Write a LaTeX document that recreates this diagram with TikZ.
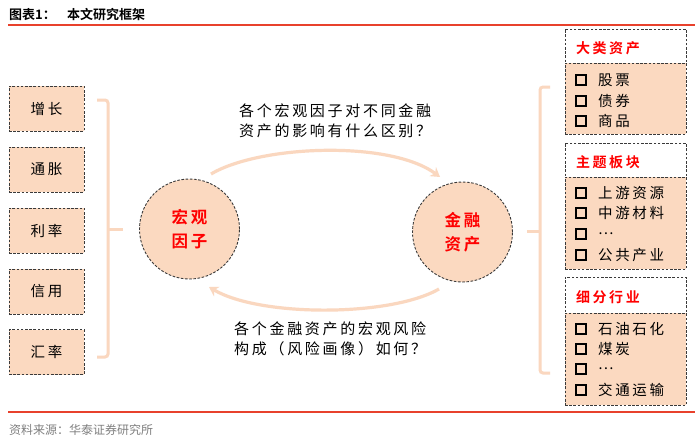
\documentclass[tikz,border=0pt]{standalone}
\usepackage{fontspec}
\usetikzlibrary{arrows.meta}
\newfontfamily\cjk[LetterSpace=18,BoldFont={* Bold}]{Noto Sans CJK SC}
\newfontfamily\cjkn[BoldFont={* Bold}]{Noto Sans CJK SC}
\definecolor{peach}{HTML}{FBD9C0}
\definecolor{peachline}{HTML}{FAD7BF}
\definecolor{titlered}{HTML}{E8412C}
\definecolor{txtred}{HTML}{FF0000}
\definecolor{dashgray}{HTML}{3A3A3A}
\definecolor{srcgray}{HTML}{808080}
\tikzset{
  dsh/.style={draw=dashgray, line width=0.9pt, dash pattern=on 2.6pt off 1.6pt},
  lbox/.style={dsh, fill=peach, minimum width=75pt, minimum height=45pt, inner sep=0pt,
    font=\cjk\fontsize{14.5}{16}\selectfont},
  circ/.style={dsh, fill=peach, circle, minimum size=100pt, inner sep=0pt, align=center,
    text=txtred, font=\cjk\bfseries\fontsize{16.5}{24}\selectfont},
  brk/.style={draw=peachline, line width=3pt, rounded corners=3pt},
  arc/.style={draw=peachline, line width=3.2pt, -{Stealth[length=9pt,width=11pt]}},
  qtxt/.style={inner sep=0pt, align=left, font=\cjk\fontsize{15}{20}\selectfont},
  hdr/.style={dsh, fill=white, minimum width=121pt, inner sep=0pt},
  body/.style={dsh, fill=peach, minimum width=121pt, inner sep=0pt},
  htxt/.style={anchor=west, inner sep=0pt, text=txtred, font=\cjk\bfseries\fontsize{14}{16}\selectfont},
  chk/.style={draw=black, line width=2pt, minimum size=10.5pt, inner sep=0pt},
  itxt/.style={anchor=west, inner sep=0pt, font=\cjk\fontsize{14.5}{16}\selectfont},
}
\begin{document}
\begin{tikzpicture}[x=1pt,y=-1pt]
\useasboundingbox (0,0) rectangle (700,442);
\fill[white] (0,0) rectangle (700,442);

% title
\node[anchor=west, inner sep=0pt, font=\cjkn\bfseries\fontsize{13}{14}\selectfont] (t1) at (9,15) {图表1：};
\node[anchor=west, inner sep=0pt, font=\cjkn\bfseries\fontsize{13}{14}\selectfont] (t2) at (67,15) {本文研究框架};
\coordinate (tl1) at (8,25); \coordinate (tl2) at (695,25);
\draw[titlered, line width=2pt] (tl1) -- (tl2);
\coordinate (bl1) at (8,412); \coordinate (bl2) at (695,412);
\draw[titlered, line width=1.6pt] (bl1) -- (bl2);
\node[anchor=west, inner sep=0pt, text=srcgray, font=\cjkn\fontsize{12}{13}\selectfont] (src) at (9,430) {资料来源：华泰证券研究所};

% left boxes
\node[lbox] (b1) at (46.5,108.5) {增长};
\node[lbox] (b2) at (46.5,169.5) {通胀};
\node[lbox] (b3) at (46.5,230.5) {利率};
\node[lbox] (b4) at (46.5,291.5) {信用};
\node[lbox] (b5) at (46.5,352) {汇率};

% left bracket
\coordinate (lb1) at (97,100); \coordinate (lb2) at (108,100);
\coordinate (lb3) at (108,357); \coordinate (lb4) at (97,357);
\coordinate (lbm) at (108,229); \coordinate (lbs) at (123,229);
\draw[brk] (lb1) -- (lb2) -- (lb3) -- (lb4);
\draw[brk] (lbm) -- (lbs);

% circles
\node[circ] (cL) at (189.5,229) {宏观\\因子};
\node[circ] (cR) at (462.5,232) {金融\\资产};

% arcs
\coordinate (a1s) at (211,174); \coordinate (a1e) at (440,177);
\draw[arc] (a1s) .. controls (260,145) and (390,140) .. (a1e);
\coordinate (a2s) at (439,289); \coordinate (a2e) at (209,287);
\draw[arc] (a2s) .. controls (390,317) and (260,317) .. (a2e);

% questions
\node[qtxt, anchor=west] (q1) at (239,121) {各个宏观因子对不同金融\\资产的影响有什么区别？};
\node[qtxt, anchor=west] (q2) at (234,339) {各个金融资产的宏观风险\\构成（风险画像）如何？};

% right bracket
\coordinate (rb1) at (550,87); \coordinate (rb2) at (540,87);
\coordinate (rb3) at (540,373); \coordinate (rb4) at (550,373);
\coordinate (rbm) at (540,231); \coordinate (rbs) at (527,231);
\draw[brk] (rb1) -- (rb2) -- (rb3) -- (rb4);
\draw[brk] (rbm) -- (rbs);

% right panels
\node[hdr, minimum height=34pt] (h1) at (625.5,46) {};
\node[body, minimum height=71pt] (p1) at (625.5,98.5) {};
\node[hdr, minimum height=34pt] (h2) at (625.5,160) {};
\node[body, minimum height=92pt] (p2) at (625.5,223) {};
\node[hdr, minimum height=36pt] (h3) at (625.5,295) {};
\node[body, minimum height=92pt] (p3) at (625.5,359) {};

\node[htxt] (ht1) at (576,48) {大类资产};
\node[htxt] (ht2) at (576,162) {主题板块};
\node[htxt] (ht3) at (576,297) {细分行业};

\node[chk] (k11) at (581,80) {};  \node[itxt] (i11) at (598,80) {股票};
\node[chk] (k12) at (581,101) {}; \node[itxt] (i12) at (598,101) {债券};
\node[chk] (k13) at (581,121) {}; \node[itxt] (i13) at (598,121) {商品};

\node[chk] (k21) at (581,193) {}; \node[itxt] (i21) at (598,193) {上游资源};
\node[chk] (k22) at (581,213) {}; \node[itxt] (i22) at (598,213) {中游材料};
\node[chk] (k23) at (581,234) {}; \node[itxt] (i23) at (598,234) {…};
\node[chk] (k24) at (581,255) {}; \node[itxt] (i24) at (598,255) {公共产业};

\node[chk] (k31) at (581,329) {}; \node[itxt] (i31) at (598,329) {石油石化};
\node[chk] (k32) at (581,349) {}; \node[itxt] (i32) at (598,349) {煤炭};
\node[chk] (k33) at (581,369) {}; \node[itxt] (i33) at (598,369) {…};
\node[chk] (k34) at (581,390) {}; \node[itxt] (i34) at (598,390) {交通运输};
\end{tikzpicture}
\end{document}
